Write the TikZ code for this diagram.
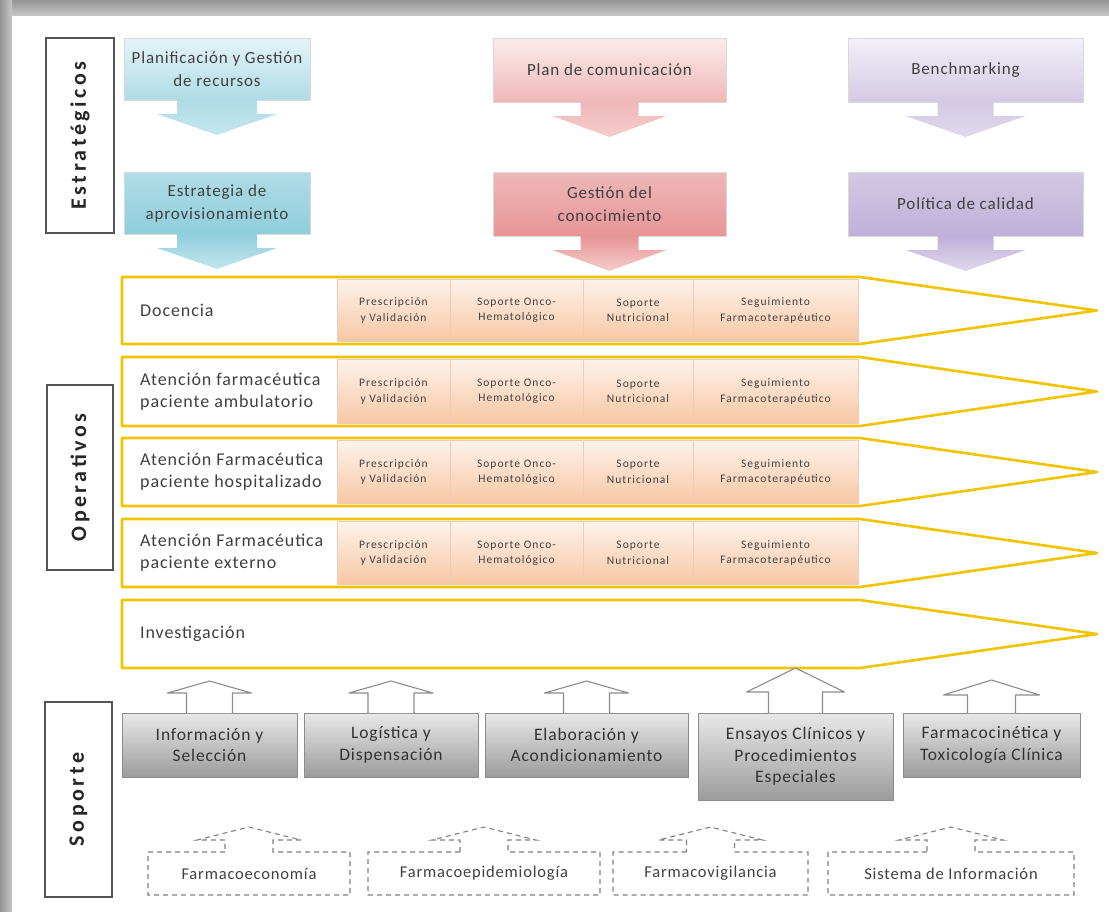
\documentclass[tikz,border=0pt]{standalone}
\usepackage{fontspec}
\setmainfont{Carlito}[LetterSpace=5]
\newfontfamily\lblfont{Carlito}[LetterSpace=16]
\newfontfamily\cellfont{Carlito}[LetterSpace=9]
\usepackage{tikz}
\usetikzlibrary{calc}
\definecolor{txtgray}{HTML}{404040}
\definecolor{lblline}{HTML}{555555}
\definecolor{blueA}{HTML}{E4F4F8}
\definecolor{blueB}{HTML}{B0DCE7}
\definecolor{blueC}{HTML}{C4E6EE}
\definecolor{blueD}{HTML}{8FCEDC}
\definecolor{pinkA}{HTML}{FCEBEB}
\definecolor{pinkB}{HTML}{EFB8B8}
\definecolor{pinkC}{HTML}{F6CDCD}
\definecolor{pinkD}{HTML}{E79595}
\definecolor{lilaA}{HTML}{F3F0F8}
\definecolor{lilaB}{HTML}{D3C9E4}
\definecolor{lilaC}{HTML}{E0D9EE}
\definecolor{lilaD}{HTML}{BEB0D8}
\definecolor{laneyellow}{HTML}{F0C400}
\definecolor{cellA}{HTML}{FDF2EA}
\definecolor{cellB}{HTML}{F8C7A4}
\definecolor{cellline}{HTML}{EBCDB8}
\definecolor{supA}{HTML}{E8E8E8}
\definecolor{supB}{HTML}{9C9C9C}
\tikzset{
  lblbox/.style={draw=lblline, line width=1.8pt, fill=white, inner sep=0pt, outer sep=0pt, font=\lblfont\fontsize{22}{24}\selectfont\bfseries, text=black!85},
  stratbox/.style={draw=black!15, line width=0.6pt, inner sep=0pt, outer sep=0pt, align=center, font=\fontsize{17}{23}\selectfont, text=txtgray},
  bluebox/.style={stratbox, top color=blueA, bottom color=blueB},
  bluebox2/.style={stratbox, top color=blueB, bottom color=blueD},
  pinkbox/.style={stratbox, top color=pinkA, bottom color=pinkB},
  pinkbox2/.style={stratbox, top color=pinkB, bottom color=pinkD},
  lilabox/.style={stratbox, top color=lilaA, bottom color=lilaB},
  lilabox2/.style={stratbox, top color=lilaB, bottom color=lilaD},
  lane/.style={draw=laneyellow, line width=2.6pt, line join=round},
  lanetext/.style={anchor=west, align=left, inner sep=0pt, font=\fontsize{18}{22}\selectfont, text=txtgray},
  cellbox/.style={draw=cellline, line width=0.6pt, top color=cellA, bottom color=cellB, inner sep=0pt, outer sep=0pt, align=center, font=\cellfont\fontsize{11.5}{15.5}\selectfont, text=txtgray},
  supbox/.style={draw=black!45, line width=0.7pt, top color=supA, bottom color=supB, inner sep=0pt, outer sep=0pt, align=center, font=\fontsize{17.5}{21.5}\selectfont, text=black!80},
  uparrow/.style={draw=black!45, line width=1.1pt, fill=white, line join=round},
  auxbox/.style={inner sep=0pt, outer sep=0pt, align=center, font=\fontsize{16.5}{19}\selectfont, text=txtgray},
  auxline/.style={draw=black!50, line width=1.1pt, dash pattern=on 5pt off 4pt}
}
\begin{document}
\begin{tikzpicture}[x=1pt,y=-1pt]
\useasboundingbox (0,0) rectangle (1109,911);
\shade[top color=black!42, bottom color=black!22] (0,0) rectangle (1109,16);
\shade[left color=black!42, right color=black!22] (0,0) rectangle (12,911);
\fill[white] (12,16) rectangle (1109,911);

\node[lblbox, minimum width=195pt, minimum height=68pt, rotate=90] (estr) at (80,135.5) {Estratégicos};
\node[lblbox, minimum width=185pt, minimum height=66pt, rotate=90] (oper) at (80,477.5) {Operativos};
\node[lblbox, minimum width=195pt, minimum height=67pt, rotate=90] (sopo) at (78.5,799.5) {Soporte};

\node[bluebox, minimum width=186pt, minimum height=62pt] (plan) at (217,69) {Planificación y Gestión\\de recursos};
\node[bluebox2, minimum width=186pt, minimum height=62pt] (aprov) at (217,203) {Estrategia de\\aprovisionamiento};
\node[pinkbox, minimum width=233pt, minimum height=64pt] (comu) at (609.5,70) {Plan de comunicación};
\node[pinkbox2, minimum width=233pt, minimum height=64pt] (conoc) at (609.5,204) {Gestión del\\conocimiento};
\node[lilabox, minimum width=235pt, minimum height=64pt] (bench) at (965.5,70) {Benchmarking};
\node[lilabox2, minimum width=235pt, minimum height=64pt] (calid) at (965.5,204) {Política de calidad};
\foreach \n/\nh/\hh/\ca/\cb in {plan/40/60/blueB/blueC, aprov/40/60/blueD/blueC, comu/29/57/pinkB/pinkC, conoc/29/57/pinkD/pinkC, bench/28/60/lilaB/lilaC, calid/28/60/lilaD/lilaC}
  \path[top color=\ca, bottom color=\cb] ($(\n.south)+(-\nh,0)$) -- ($(\n.south)+(-\nh,14)$) -- ($(\n.south)+(-\hh,14)$) -- ($(\n.south)+(0,35)$) -- ($(\n.south)+(\hh,14)$) -- ($(\n.south)+(\nh,14)$) -- ($(\n.south)+(\nh,0)$) -- cycle;

\foreach \t/\b/\lbl [count=\i] in {277/344/Docencia, 357/426/{Atención farmacéutica\\paciente ambulatorio}, 438/506/{Atención Farmacéutica\\paciente hospitalizado}, 519/587/{Atención Farmacéutica\\paciente externo}, 600/668/Investigación}{
  \draw[lane] (122,\t) -- (860,\t) -- (1097,{(\t+\b)/2}) -- (860,\b) -- (122,\b) -- cycle;
  \node[lanetext] (lane\i) at (140,{(\t+\b)/2}) {\lbl};
  \ifnum\i<5
    \foreach \xa/\xb/\ctext [count=\j] in {337/450/{Prescripción\\y Validación}, 450/583/{Soporte Onco-\\Hematológico}, 583/693/{Soporte\\Nutricional}, 693/858/{Seguimiento\\Farmacoterapéutico}}
      \node[cellbox, minimum width={\xb-\xa}, minimum height={\b-\t-5}] (cell\i-\j) at ({(\xa+\xb)/2},{(\t+\b)/2}) {\ctext};
  \fi
}

\node[supbox, minimum width=175pt, minimum height=64pt] (sinfo) at (209.5,745) {Información y\\Selección};
\node[supbox, minimum width=174pt, minimum height=64pt] (slog) at (391,745) {Logística y\\Dispensación};
\node[supbox, minimum width=203pt, minimum height=64pt] (selab) at (586.5,745) {Elaboración y\\Acondicionamiento};
\node[supbox, minimum width=195pt, minimum height=87pt] (sens) at (795.5,756.5) {Ensayos Clínicos y\\Procedimientos\\Especiales};
\node[supbox, minimum width=177pt, minimum height=64pt] (sfarm) at (991.5,745) {Farmacocinética y\\Toxicología Clínica};
\foreach \n/\nh/\hh/\nl/\hl in {sinfo/23/42/20/12, slog/23/42/20/12, selab/23/42/20/12, sens/27/49/21/24, sfarm/24/48/18/15}
  \filldraw[uparrow] ($(\n.north)+(-\nh,0)$) -- ($(\n.north)+(-\nh,-\nl)$) -- ($(\n.north)+(-\hh,-\nl)$) -- ($(\n.north)+(0,{-\nl-\hl})$) -- ($(\n.north)+(\hh,-\nl)$) -- ($(\n.north)+(\nh,-\nl)$) -- ($(\n.north)+(\nh,0)$);

\node[auxbox, minimum width=202pt, minimum height=43pt] (fecon) at (249,873.5) {Farmacoeconomía};
\node[auxbox, minimum width=232pt, minimum height=43pt] (fepid) at (484,873.5) {Farmacoepidemiología};
\node[auxbox, minimum width=195pt, minimum height=43pt] (fvig) at (710.5,873.5) {Farmacovigilancia};
\node[auxbox, minimum width=246pt, minimum height=43pt] (fsis) at (951,873.5) {Sistema de Información};
\foreach \n in {fecon, fepid, fvig, fsis}
  \draw[auxline] ($(\n.north)+(-24,0)$) -- (\n.north west) -- (\n.south west) -- (\n.south east) -- (\n.north east) -- ($(\n.north)+(24,0)$) -- ($(\n.north)+(24,-12)$) -- ($(\n.north)+(52,-12)$) -- ($(\n.north)+(0,-25)$) -- ($(\n.north)+(-52,-12)$) -- ($(\n.north)+(-24,-12)$) -- cycle;
\end{tikzpicture}
\end{document}
